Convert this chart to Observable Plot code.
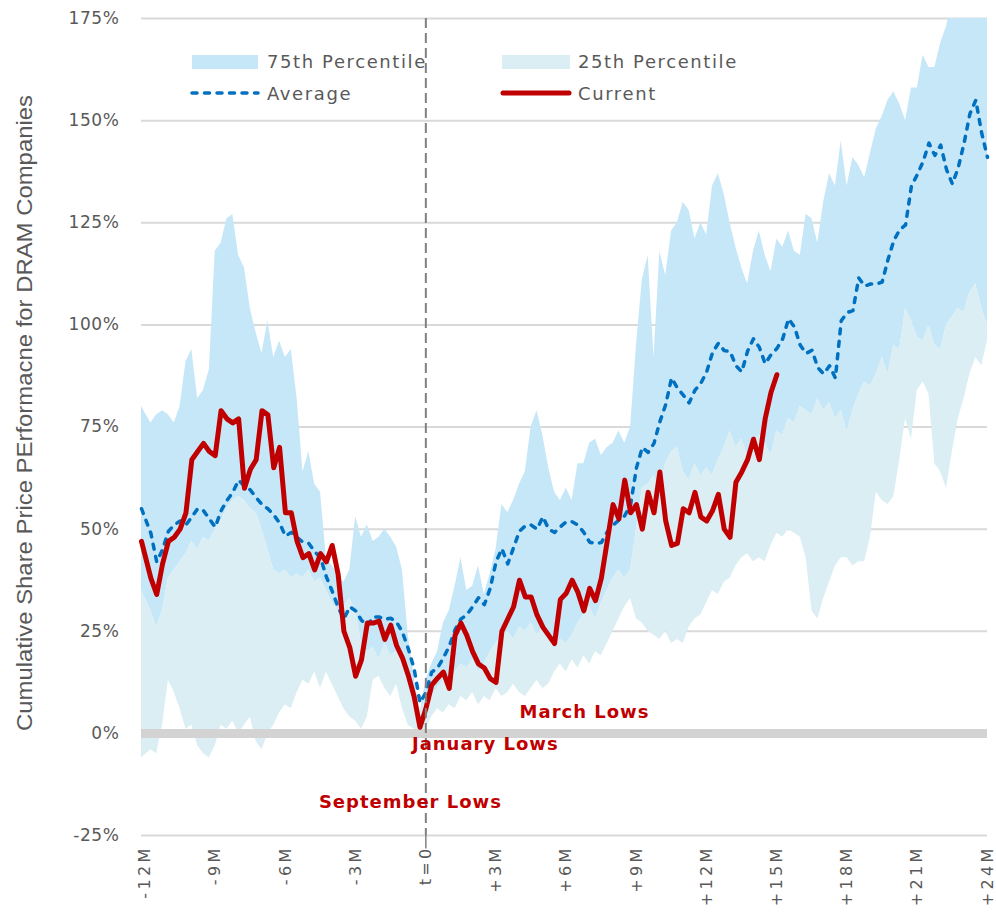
<!DOCTYPE html>
<html>
<head>
<meta charset="utf-8">
<script src="https://cdn.jsdelivr.net/npm/d3@7"></script>
<script src="https://cdn.jsdelivr.net/npm/@observablehq/plot@0.6"></script>
<style>
  html, body { margin: 0; padding: 0; background: #fff; }
  #wrap { position: relative; width: 996px; height: 914px; }
  #legend { position: absolute; left: 0; top: 0; z-index: 0; font-family: "DejaVu Sans", sans-serif; font-size: 18px; color: #595959; letter-spacing: 1.6px; }
  #legend .item { position: absolute; white-space: nowrap; line-height: 1; }
  #legend .sw { position: absolute; }
  #chart { position: relative; z-index: 1; }
  [aria-label^="x-axis"] text { letter-spacing: 3.3px; font-size: 16px; }
  [aria-label^="y-axis"] text { letter-spacing: 0.6px; }
</style>
</head>
<body>
<div id="wrap">
  <div id="legend"></div>
  <div id="chart"></div>
</div>
<script>
// ---- Data ----
// Month grid (0.25-month steps from -12M to +24M)
const months = d3.range(145).map(i => -12 + i * 0.25);
months[0] = -12.15;

const xTicks = [-12, -9, -6, -3, 0, 3, 6, 9, 12, 15, 18, 21, 24];
const yTicks = [-25, 0, 25, 50, 75, 100, 125, 150, 175];

// 75th percentile (upper edge of the blue band), %
const high75 = [
  80, 76, 78, 79, 78, 76, 80, 91, 94, 82, 84, 89,
  118, 120, 126, 127, 117, 114, 104, 98, 93, 101, 92, 96,
  92, 94, 82, 64, 69, 61, 59, 43, 41, 39, 37, 40,
  53, 48, 51, 47, 48, 50, 48, 45.6, 40, 24, 14, 5,
  13,
  17, 20, 27, 30, 36, 43, 35, 36, 41, 34, 39, 45,
  56, 54, 57, 61, 64, 75, 79, 73, 65, 59, 57, 60,
  57, 66, 66, 71, 72, 68, 70, 71, 74, 71, 75, 95,
  111, 117, 92, 118, 112, 123, 125, 130, 128, 121, 125, 122,
  134, 137, 132, 125, 119, 114, 110, 118, 123, 117, 113, 121,
  119, 123, 118, 117, 127, 126, 120, 130, 137, 134, 145, 134,
  141, 139, 136, 142, 148, 151, 155, 157, 154, 150, 158, 158,
  166, 163, 163, 169, 173, 180, 182, 185, 186, 188, 190, 190
];

// 25th percentile (upper edge of the pale band), %
const mid25 = [
  35, 30, 26, 30, 38, 40, 42, 44, 47, 45, 48, 47,
  50, 52, 55, 57, 58, 57, 55, 54, 50, 45, 40, 39,
  40, 38, 39, 38, 40, 37, 38, 35, 32, 30, 31, 33,
  30, 22, 20, 21, 18, 22, 19, 20, 17, 12, 8, 4,
  9,
  9, 11, 13, 12, 15, 17, 16, 18, 15, 17, 20, 22,
  24, 25, 23, 26, 25, 27, 24, 26, 23, 21, 23, 22,
  24, 27, 29, 31, 28, 32, 35, 38, 40, 38, 40, 50,
  60, 61, 63, 60, 66, 69, 70, 64, 62, 66, 63, 65,
  63, 67, 70, 74, 70, 72, 68, 70, 73, 71, 68, 74,
  73, 77, 76, 80, 79, 78, 82, 79, 81, 77, 79, 74,
  79, 83, 86, 85, 88, 92, 88, 95, 94, 104, 101, 97,
  96, 100, 95, 94, 100, 102, 104, 103, 108, 110, 104, 100
];

// Lower edge of the pale band, %
const lowEdge = [
  -6, -4, -5, 2, 13, 10, 6, 1, 2, -3, -5, -6,
  -3, 2, 1, 3, 0, 2, 4, -2, -4, 0, 2, 5,
  7, 6, 10, 13, 12, 15, 11, 15, 12, 9, 6, 4,
  3, 1, 4, 13, 14, 11, 9, 12, 6, 2, 1, 0.5,
  1,
  4, 6, 5, 7, 6, 9, 8, 10, 7, 9, 8, 11,
  9, 10, 12, 10, 9, 11, 13, 11, 12, 15, 17, 15,
  18, 16, 19, 17, 20, 19, 22, 25, 28, 31, 33, 28,
  27, 25, 24, 23, 25, 22, 23, 22, 26, 28, 29, 32,
  35, 34, 37, 38, 41, 43, 44, 42, 43, 42, 46, 49,
  48, 50, 49, 48, 43, 30, 28, 33, 37, 41, 43, 43,
  41, 42, 42, 48, 59, 57, 56, 58, 67, 77, 72, 84,
  86, 83, 66, 64, 60, 69, 77, 82, 88, 92, 90, 96
];

// Average, %
const average = [
  55, 49, 42, 45, 49.5, 51, 52, 51, 53, 55, 54.5, 52.5,
  50.5, 54.5, 57, 59, 62, 60.5, 59.6, 57.7, 56, 55, 53.5, 51.5,
  48.3, 49.2, 48, 46.8, 46.5, 44.5, 43, 38.3, 34.8, 30.9, 28, 31,
  30, 27.7, 26.3, 28.5, 28.5, 27.9, 28.2, 27.2, 24.8, 20.7, 15.8, 7.5,
  10,
  15, 16, 18.5, 21.3, 25.4, 28, 29, 31, 33.2, 31.5, 35.5, 42,
  45.2, 41.5, 45.5, 49.5, 50.8, 51, 50, 53, 50, 49.2, 50.6, 51.8,
  51.8, 51, 49.2, 46.8, 46.5, 46.7, 49.3, 51, 52.2, 53.3, 56, 65,
  70, 68.8, 71, 76.3, 80.5, 87, 84.5, 82.8, 80.9, 84, 85.7, 88.5,
  93.2, 95.5, 93.7, 93.5, 90, 88.5, 93.6, 96.6, 94.5, 90.5, 92.7, 94.2,
  96.6, 101.5, 99.5, 95, 93, 93.8, 89.5, 88, 90, 87, 101, 103,
  103.5, 111.5, 109.5, 110, 110, 110.5, 116, 120.7, 123.3, 124.5, 134, 136.8,
  140, 144.5, 141.5, 144, 138, 134.5, 138.5, 144.5, 151.7, 155, 147, 141
];

// Current cycle, % (ends at +15M)
const current = [
  47, 38, 34, 41.5, 47, 48, 50, 54, 67, 69, 71, 69,
  68, 79, 77, 76, 77, 60, 64.6, 67, 79, 78, 65, 70,
  54, 54, 47, 43, 44, 40, 44, 42, 46, 39, 25, 21,
  14, 18, 27, 27, 27.5, 23, 26.5, 21.5, 18.5, 14.2, 9, 1.5,
  6,
  11.8, 13.5, 15, 11, 24, 27, 24, 20, 17, 16, 13.4, 12.5,
  25, 28, 31, 37.5, 33.4, 33.4, 29, 26, 24, 22, 32.8, 34.3,
  37.5, 34.5, 30, 35.5, 32.5, 38, 47, 56, 52.5, 62, 54, 56,
  50, 59, 54, 64, 52, 46, 46.5, 55, 54, 59, 53, 52,
  54.5, 58.5, 50, 48, 61.5, 64, 67, 72, 67, 77, 83.5, 87.8
];

// Annotations
const noteText = ["March Lows", "January Lows", "September Lows"];
const noteMonth = [6.78, 2.54, -0.66];
const noteValue = [5.1, -2.7, -16.9];

// Legend
const legendItems = ["75th Percentile", "25th Percentile", "Average", "Current"];

// ---- Build tables ----
const band = months.map((m, i) => ({m, low: lowEdge[i], mid: mid25[i], high: high75[i], avg: average[i]}));
const cur = current.map((v, i) => ({m: months[i], v}));
const notes = noteText.map((t, i) => ({t, m: noteMonth[i], v: noteValue[i]}));

const COL_75 = "#c6e7f8", COL_25 = "#daeef3", COL_AVG = "#0070c0", COL_CUR = "#c00000";

const chart = Plot.plot({
  width: 996,
  height: 914,
  marginTop: 18,
  marginBottom: 79,
  marginLeft: 141,
  marginRight: 9,
  style: {background: "transparent", fontFamily: "DejaVu Sans, sans-serif", fontSize: "17px", color: "#595959", overflow: "visible"},
  x: {
    domain: [-12.15, 24], label: null, ticks: xTicks,
    tickFormat: d => d === 0 ? "t=0" : (d > 0 ? "+" : "") + d + "M",
    tickRotate: -90, tickSize: 0, tickPadding: 10
  },
  y: {
    domain: [-25, 175], label: null, ticks: yTicks,
    tickFormat: d => d + "%", tickSize: 0, tickPadding: 22
  },
  marks: [
    Plot.ruleY(yTicks, {stroke: "#d9d9d9", strokeWidth: 2}),
    Plot.areaY(band, {x: "m", y1: "mid", y2: "high", fill: COL_75, clip: true}),
    Plot.areaY(band, {x: "m", y1: "low", y2: "mid", fill: COL_25, clip: true}),
    Plot.ruleY([0], {stroke: "#d3d3d3", strokeWidth: 9}),
    Plot.lineY(band, {x: "m", y: "avg", stroke: COL_AVG, strokeWidth: 3.5, strokeDasharray: "5,7.5", strokeLinecap: "round", strokeLinejoin: "round"}),
    Plot.lineY(cur, {x: "m", y: "v", stroke: COL_CUR, strokeWidth: 5, strokeLinecap: "round", strokeLinejoin: "round"}),
    Plot.ruleX([0], {stroke: "#808080", strokeWidth: 2, strokeDasharray: "10,5"}),
    Plot.ruleX([0], {y1: -25, y2: -28.3, stroke: "#808080", strokeWidth: 1.5}),
    Plot.text(notes, {x: "m", y: "v", text: "t", fill: COL_CUR, fontWeight: "bold", fontSize: 18, fontFamily: "DejaVu Sans, sans-serif"})
  ]
});
document.getElementById("chart").appendChild(chart);

// letter spacing for annotation labels
d3.select(chart).selectAll('g[aria-label="text"] text').style("letter-spacing", "1px");

// y-axis title
d3.select(chart).append("text")
  .attr("transform", "translate(24,413) rotate(-90)")
  .attr("text-anchor", "middle")
  .attr("dominant-baseline", "central")
  .attr("textLength", 636)
  .attr("lengthAdjust", "spacingAndGlyphs")
  .style("font-family", "'Liberation Sans Narrow', 'Liberation Sans', sans-serif")
  .style("font-size", "22px")
  .style("letter-spacing", "0px")
  .attr("fill", "#595959")
  .text("Cumulative Share Price PErformacne for DRAM Companies");

// legend (drawn beneath the SVG so the t=0 rule passes over it)
const lg = d3.select("#legend");
lg.append("div").attr("class", "sw").style("left", "192px").style("top", "55px").style("width", "66px").style("height", "14px").style("background", COL_75);
lg.append("div").attr("class", "item").style("left", "267px").style("top", "53px").text(legendItems[0]);
lg.append("div").attr("class", "sw").style("left", "502px").style("top", "55px").style("width", "68px").style("height", "14px").style("background", COL_25);
lg.append("div").attr("class", "item").style("left", "578px").style("top", "53px").text(legendItems[1]);
const ls = lg.append("svg").style("position", "absolute").style("left", "0px").style("top", "0px").attr("width", 600).attr("height", 120);
ls.append("line").attr("x1", 192).attr("x2", 258).attr("y1", 93).attr("y2", 93).attr("stroke", COL_AVG).attr("stroke-width", 3.5).attr("stroke-dasharray", "5,7.5").attr("stroke-linecap", "round");
ls.append("line").attr("x1", 503).attr("x2", 569).attr("y1", 93).attr("y2", 93).attr("stroke", COL_CUR).attr("stroke-width", 5).attr("stroke-linecap", "round");
lg.append("div").attr("class", "item").style("left", "267px").style("top", "85px").text(legendItems[2]);
lg.append("div").attr("class", "item").style("left", "578px").style("top", "85px").text(legendItems[3]);
</script>
</body>
</html>
